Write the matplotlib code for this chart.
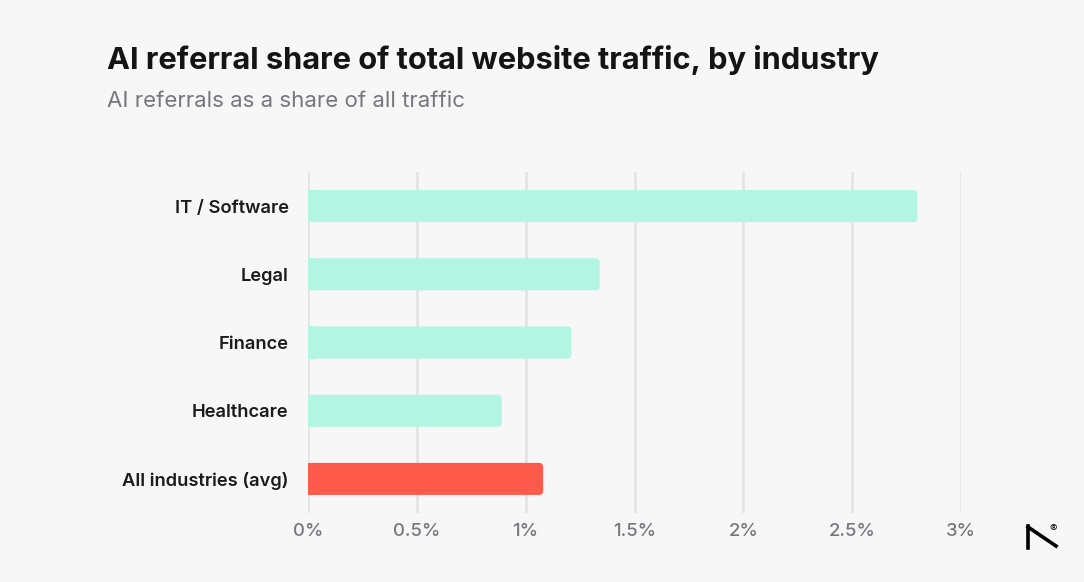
import matplotlib.pyplot as plt
from matplotlib.patches import FancyBboxPatch
from matplotlib.lines import Line2D

industries = ["IT / Software", "Legal", "Finance", "Healthcare", "All industries (avg)"]
share_pct = [2.8, 1.34, 1.21, 0.89, 1.08]
bar_colors = ["#b1f5e2", "#b1f5e2", "#b1f5e2", "#b1f5e2", "#ff5b4c"]
tick_vals = [0, 0.5, 1, 1.5, 2, 2.5, 3]
tick_labels = ["0%", "0.5%", "1%", "1.5%", "2%", "2.5%", "3%"]

bg = "#f7f7f7"
plt.rcParams['font.family'] = ['Inter', 'DejaVu Sans']

fig = plt.figure(figsize=(10.84, 5.82), dpi=100, facecolor=bg)
ax = fig.add_axes([308 / 1084, 1 - 513 / 582, (961 - 308) / 1084, (513 - 172) / 582])
ax.set_facecolor(bg)

ypos = list(range(len(industries)))
bars = ax.barh(ypos, share_pct, height=0.47, color=bar_colors)
ax.set_xlim(0, 3)
ax.set_ylim(4.5, -0.5)

# swap plain bars for ones with a rounded right end
fig.canvas.draw()
px_x = ax.transData.transform((1, 0))[0] - ax.transData.transform((0, 0))[0]
px_y = abs(ax.transData.transform((0, 1))[1] - ax.transData.transform((0, 0))[1])
r = 4.0
for b in bars:
    x0, y0, w, h = b.get_x(), b.get_y(), b.get_width(), b.get_height()
    c = b.get_facecolor()
    b.set_visible(False)
    ax.add_patch(FancyBboxPatch((x0, y0), w, h,
                                boxstyle=f"round,pad=0,rounding_size={r / px_x}",
                                mutation_aspect=px_x / px_y,
                                facecolor=c, edgecolor="none", zorder=3))
    # square off the left end
    ax.add_patch(plt.Rectangle((x0, y0), 2 * r / px_x, h, facecolor=c,
                               edgecolor="none", zorder=3))

ax.set_xticks(tick_vals)
ax.set_xticklabels(tick_labels, fontsize=13.3, color="#77767c", fontweight="medium")
ax.set_yticks(ypos)
ax.set_yticklabels(industries, fontsize=13.2, color="#1b1b1b", fontweight="semibold")
ax.tick_params(axis="x", length=0, pad=7)
ax.tick_params(axis="y", length=0, pad=14)
ax.grid(axis="x", color="#e3e3e3", linewidth=1.8, zorder=0)
ax.set_axisbelow(True)
for s in ax.spines.values():
    s.set_visible(False)

fig.text(107 / 1084, 1 - 60 / 582, "AI referral share of total website traffic, by industry",
         fontsize=22.2, fontweight="bold", color="#141414", va="center", ha="left")
fig.text(107 / 1084, 1 - 101 / 582, "AI referrals as a share of all traffic",
         fontsize=16, color="#77767c", va="center", ha="left")

# logo mark, bottom right
W, H = 1084, 582
fig.add_artist(Line2D([1028 / W, 1028 / W], [1 - 526 / H, 1 - 548 / H], color="black", lw=2.6))
fig.add_artist(Line2D([1028 / W, 1056 / W], [1 - 527 / H, 1 - 546 / H], color="black", lw=2.6))
fig.text(1053 / W, 1 - 529 / H, "®", fontsize=8, color="black", ha="center", va="center")

fig.savefig("out.png", dpi=100, facecolor=bg)
